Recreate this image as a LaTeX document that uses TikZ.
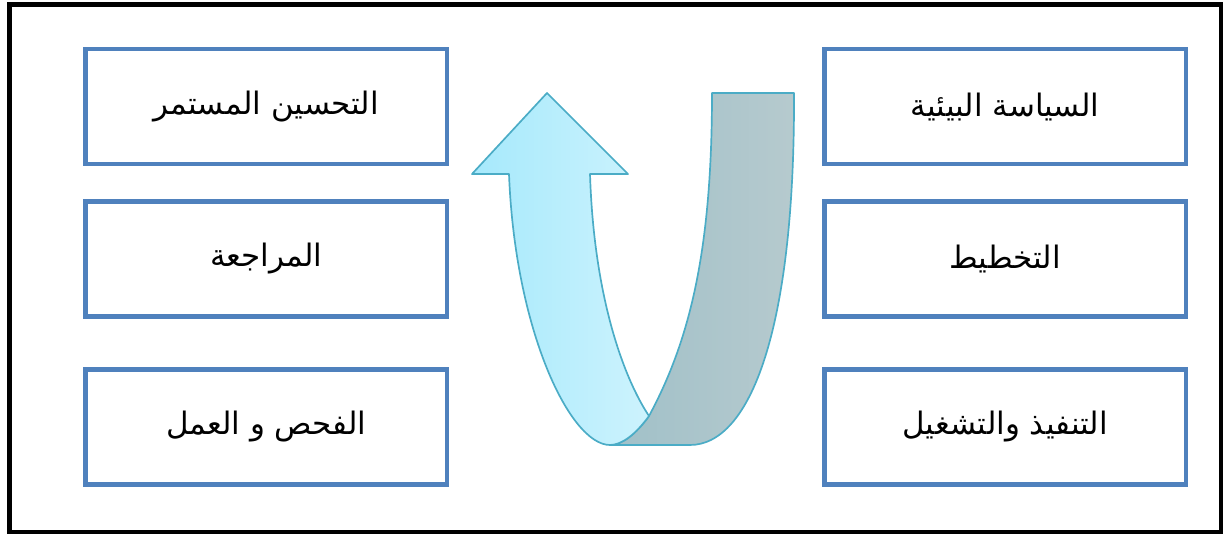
\documentclass[tikz,border=0pt]{standalone}
\usepackage{fontspec}
\newfontfamily\arabicfont[Script=Arabic]{DejaVu Sans}
\TeXXeTstate=1
\definecolor{stepblue}{HTML}{4F81BD}
\definecolor{ribbonedge}{HTML}{4BACC6}
\definecolor{ribbonfront}{HTML}{A6E9FC}
\definecolor{ribbonfrontlight}{HTML}{CDF3FD}
\definecolor{ribbonback}{HTML}{A0C0C8}
\definecolor{ribbonbacklight}{HTML}{B6CACE}

\begin{document}
\begin{tikzpicture}[
        x=1cm,y=1cm,
        stepbox/.style={draw=stepblue,line width=3.2pt,minimum width=9.04cm,
          minimum height=2.875cm,align=center,
          font=\arabicfont\fontsize{22}{26}\selectfont},
        ribbon/.style={draw=ribbonedge,line width=1.2pt,line join=round}
      ]
        \useasboundingbox (0,0) rectangle (30.6,13.375);
        \draw[line width=3.3pt] (0.2375,0.075) rectangle (30.525,13.2625);

        % left column
        \node[stepbox] (improve) at (6.656,10.706) {\beginR التحسين المستمر\endR};
        \node[stepbox] (review) at (6.656,6.9) {\beginR المراجعة\endR};
        \node[stepbox] (check) at (6.656,2.7) {\beginR الفحص و العمل\endR};
        % right column
        \node[stepbox] (policy) at (25.13,10.706) {\beginR السياسة البيئية\endR};
        \node[stepbox] (plan) at (25.13,6.9) {\beginR التخطيط\endR};
        \node[stepbox] (operate) at (25.13,2.7) {\beginR التنفيذ والتشغيل\endR};

        % folded ribbon, back side going down
        \coordinate (bend) at (16.225,2.975);
        \coordinate (low) at (15.25,2.25);
        \shade[ribbon,left color=ribbonback,right color=ribbonbacklight]
          (17.8,11.05) -- (19.85,11.05)
          .. controls (19.875,5.125) and (18.75,2.25) .. (17.25,2.25) -- (low)
          .. controls (15.55,2.25) and (15.9,2.525) .. (bend)
          .. controls (17.25,4.875) and (17.8,7.125) .. cycle;
        % front side coming up with the head
        \shade[ribbon,left color=ribbonfront,right color=ribbonfrontlight]
          (12.725,9.025) .. controls (12.875,5.125) and (14.25,2.25) .. (low)
          .. controls (15.55,2.25) and (15.9,2.525) .. (bend)
          .. controls (15.625,3.875) and (14.85,5.875) .. (14.75,9.025)
          -- (15.7,9.025) -- (13.675,11.05) -- (11.8,9.025) -- cycle;
      \end{tikzpicture}
\end{document}
